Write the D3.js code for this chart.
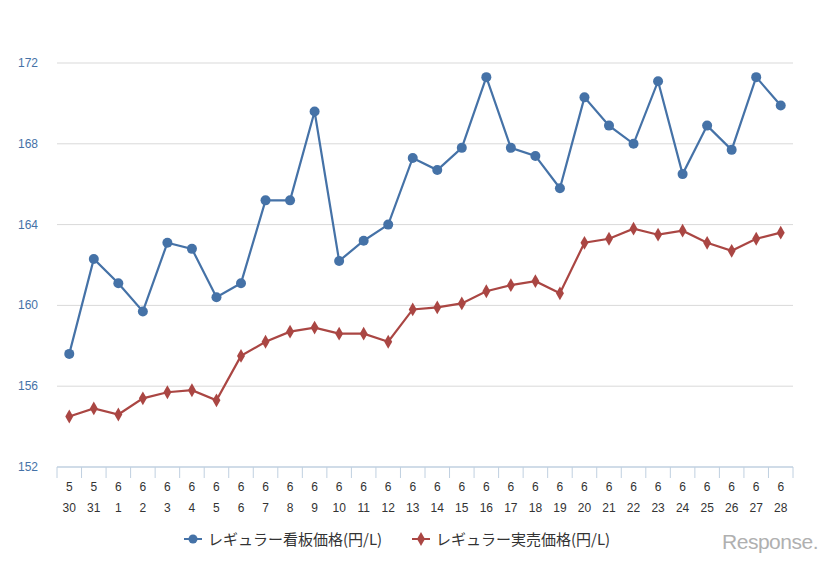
<!DOCTYPE html>
<html><head><meta charset="utf-8">
<script src="https://cdn.jsdelivr.net/npm/d3@7"></script>
<style>body{margin:0;background:#fff}</style>
</head><body>
<script>
const months = ["5","5","6","6","6","6","6","6","6","6","6","6","6","6","6","6","6","6","6","6","6","6","6","6","6","6","6","6","6","6"];
const days = ["30","31","1","2","3","4","5","6","7","8","9","10","11","12","13","14","15","16","17","18","19","20","21","22","23","24","25","26","27","28"];
const signPrice = [157.6,162.3,161.1,159.7,163.1,162.8,160.4,161.1,165.2,165.2,169.6,162.2,163.2,164.0,167.3,166.7,167.8,171.3,167.8,167.4,165.8,170.3,168.9,168.0,171.1,166.5,168.9,167.7,171.3,169.9];
const salePrice = [154.5,154.9,154.6,155.4,155.7,155.8,155.3,157.5,158.2,158.7,158.9,158.6,158.6,158.2,159.8,159.9,160.1,160.7,161.0,161.2,160.6,163.1,163.3,163.8,163.5,163.7,163.1,162.7,163.3,163.6];
const yTicks = [152,156,160,164,168,172];
const seriesNames = ["レギュラー看板価格(円/L)","レギュラー実売価格(円/L)"];

const W = 831, H = 561;
const plotLeft = 57, plotRight = 793, plotTop = 63, plotBottom = 467;
const font = "'Liberation Sans', Arial, sans-serif";

const svg = d3.select("body").append("svg").attr("width", W).attr("height", H);

const x = d3.scaleBand().domain(d3.range(days.length)).range([plotLeft, plotRight]);
const y = d3.scaleLinear().domain([152, 172]).range([plotBottom, plotTop]);

// grid + y labels
svg.selectAll(".grid").data(yTicks.slice(1)).join("line")
  .attr("x1", plotLeft).attr("x2", plotRight)
  .attr("y1", d => y(d)).attr("y2", d => y(d))
  .attr("stroke", "#d9d9d9").attr("stroke-width", 1);
svg.selectAll(".ylab").data(yTicks).join("text")
  .attr("x", 38).attr("y", d => y(d) + 4).attr("text-anchor", "end")
  .attr("font-family", font).attr("font-size", 12).attr("fill", "#4572a7")
  .text(d => d);

// x axis
svg.append("line").attr("x1", plotLeft).attr("x2", plotRight).attr("y1", plotBottom).attr("y2", plotBottom)
  .attr("stroke", "#c0d0e0").attr("stroke-width", 1.5);
svg.selectAll(".tick").data(d3.range(days.length + 1)).join("line")
  .attr("x1", i => plotLeft + i * x.bandwidth()).attr("x2", i => plotLeft + i * x.bandwidth())
  .attr("y1", plotBottom).attr("y2", plotBottom + 11)
  .attr("stroke", "#c0d0e0");
svg.selectAll(".m").data(months).join("text")
  .attr("x", (d, i) => x(i) + x.bandwidth() / 2).attr("y", 491).attr("text-anchor", "middle")
  .attr("font-family", font).attr("font-size", 12).attr("fill", "#333").text(d => d);
svg.selectAll(".d").data(days).join("text")
  .attr("x", (d, i) => x(i) + x.bandwidth() / 2).attr("y", 512).attr("text-anchor", "middle")
  .attr("font-family", font).attr("font-size", 12).attr("fill", "#333").text(d => d);

const cx = i => x(i) + x.bandwidth() / 2;
const line = d3.line().x((d, i) => cx(i)).y(d => y(d));

svg.append("path").datum(salePrice).attr("d", line)
  .attr("fill", "none").attr("stroke", "#aa4643").attr("stroke-width", 2.2);
svg.selectAll(".rd").data(salePrice).join("path")
  .attr("d", d3.symbol(d3.symbolDiamond, 55)())
  .attr("transform", (d, i) => `translate(${cx(i)},${y(d)})`)
  .attr("fill", "#aa4643");

svg.append("path").datum(signPrice).attr("d", line)
  .attr("fill", "none").attr("stroke", "#4572a7").attr("stroke-width", 2.2);
svg.selectAll(".bd").data(signPrice).join("circle")
  .attr("cx", (d, i) => cx(i)).attr("cy", d => y(d)).attr("r", 5)
  .attr("fill", "#4572a7");

// legend
const lg = [{x: 184, c: "#4572a7", sym: "circle"}, {x: 412, c: "#aa4643", sym: "diamond"}];
lg.forEach((l, i) => {
  svg.append("line").attr("x1", l.x).attr("x2", l.x + 18).attr("y1", 539).attr("y2", 539)
    .attr("stroke", l.c).attr("stroke-width", 2);
  if (l.sym === "circle") svg.append("circle").attr("cx", l.x + 9).attr("cy", 539).attr("r", 4.5).attr("fill", l.c);
  else svg.append("path").attr("d", d3.symbol(d3.symbolDiamond, 55)()).attr("transform", `translate(${l.x + 9},539)`).attr("fill", l.c);
  svg.append("text").attr("x", l.x + 24).attr("y", 545)
    .attr("font-family", "'Noto Sans CJK JP', sans-serif").attr("font-size", 15).attr("fill", "#333")
    .text(seriesNames[i]);
});

svg.append("text").attr("x", 818).attr("y", 549).attr("text-anchor", "end")
  .attr("font-family", font).attr("font-size", 21).attr("fill", "#b0b0b0")
  .attr("letter-spacing", -0.5).text("Response.");
</script>
</body></html>
